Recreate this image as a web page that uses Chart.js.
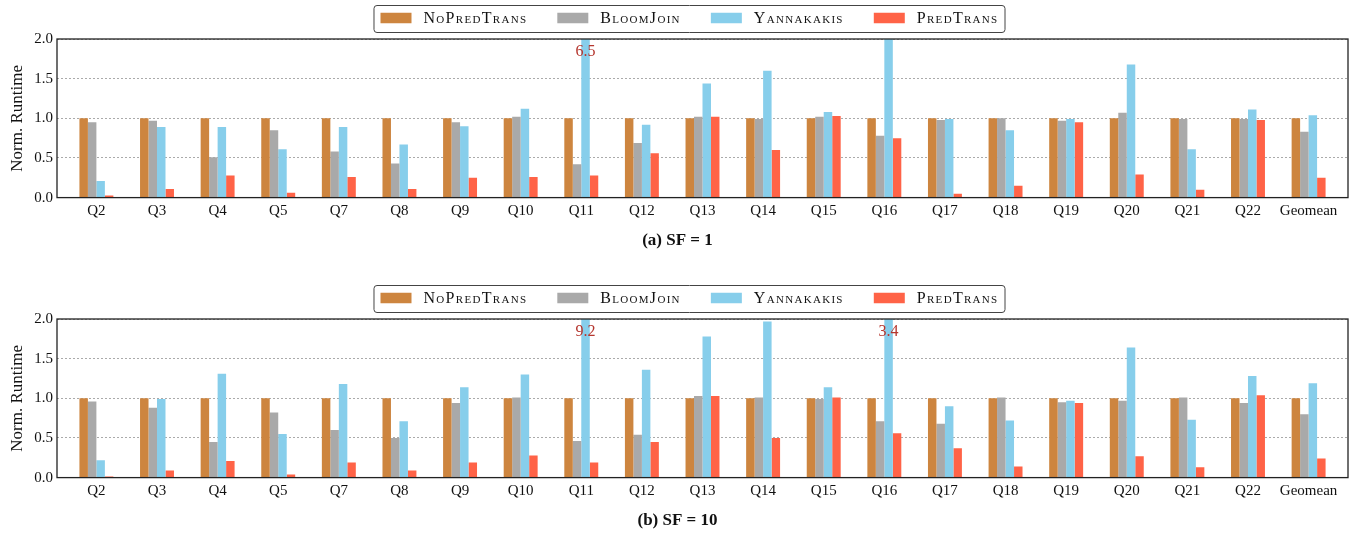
<!DOCTYPE html>
<html>
<head>
<meta charset="utf-8">
<script src="https://cdn.jsdelivr.net/npm/chart.js@4.4.1/dist/chart.umd.min.js"></script>
<style>
  body { margin: 0; background: #fff; width: 1353px; height: 534px; overflow: hidden; position: relative; }
  .panel { position: absolute; left: 0; width: 1353px; height: 254px; }
</style>
</head>
<body>
<div class="panel" style="top:0"><canvas id="sf1" width="1353" height="254"></canvas></div>
<div class="panel" style="top:280px"><canvas id="sf10" width="1353" height="254"></canvas></div>
<script>
var queries = ['Q2', 'Q3', 'Q4', 'Q5', 'Q7', 'Q8', 'Q9', 'Q10', 'Q11', 'Q12', 'Q13',
    'Q14', 'Q15', 'Q16', 'Q17', 'Q18', 'Q19', 'Q20', 'Q21', 'Q22', 'Geomean'];
var seriesNames = ['NoPredTrans', 'BloomJoin', 'Yannakakis', 'PredTrans'];
var seriesColors = ['#CD853F', '#A9A9A9', '#87CEEB', '#FF6347'];
var yTicks = [0, 0.5, 1.0, 1.5, 2.0];

// SF = 1
var sf1NoPredTrans = [1, 1, 1, 1, 1, 1, 1, 1, 1, 1, 1, 1, 1, 1, 1, 1, 1, 1, 1, 1, 1];
var sf1BloomJoin = [0.95, 0.97, 0.51, 0.85, 0.58, 0.43, 0.95, 1.02, 0.42, 0.69, 1.02,
    0.99, 1.02, 0.78, 0.98, 1.0, 0.97, 1.07, 0.99, 0.99, 0.83];
var sf1Yannakakis = [0.21, 0.89, 0.89, 0.61, 0.89, 0.67, 0.90, 1.12, 6.5, 0.92, 1.44,
    1.60, 1.08, 2.0, 0.99, 0.85, 0.99, 1.68, 0.61, 1.11, 1.04];
var sf1PredTrans = [0.025, 0.11, 0.28, 0.06, 0.26, 0.11, 0.25, 0.26, 0.28, 0.56, 1.02,
    0.60, 1.03, 0.75, 0.05, 0.15, 0.95, 0.29, 0.10, 0.98, 0.25];

// SF = 10
var sf10NoPredTrans = [1, 1, 1, 1, 1, 1, 1, 1, 1, 1, 1, 1, 1, 1, 1, 1, 1, 1, 1, 1, 1];
var sf10BloomJoin = [0.96, 0.88, 0.45, 0.82, 0.60, 0.50, 0.94, 1.01, 0.46, 0.54, 1.03,
    1.01, 0.99, 0.71, 0.68, 1.01, 0.95, 0.97, 1.01, 0.94, 0.80];
var sf10Yannakakis = [0.22, 0.99, 1.31, 0.55, 1.18, 0.71, 1.14, 1.30, 9.2, 1.36, 1.78,
    1.97, 1.14, 3.4, 0.90, 0.72, 0.97, 1.64, 0.73, 1.28, 1.19];
var sf10PredTrans = [0.013, 0.09, 0.21, 0.04, 0.19, 0.09, 0.19, 0.28, 0.19, 0.45, 1.03,
    0.50, 1.01, 0.56, 0.37, 0.14, 0.94, 0.27, 0.13, 1.04, 0.24];

var serif = "'Liberation Serif', 'DejaVu Serif', serif";
var yMax = 2.0;

function points(values) {
    return values.map(function (v, i) { return { x: i, y: v }; });
}

// boxed legend with small caps labels, drawn above the plot
var boxedLegend = {
    id: 'boxedLegend',
    afterDraw: function (chart) {
        var ctx = chart.ctx;
        var sw = 31, sh = 10.5, gap = 12, itemGap = 30;
        ctx.save();
        ctx.font = 'small-caps 16px ' + serif;
        if ('fontVariantCaps' in ctx) ctx.fontVariantCaps = 'small-caps';
        if ('letterSpacing' in ctx) ctx.letterSpacing = '1.3px';
        var widths = seriesNames.map(function (n) { return ctx.measureText(n).width; });
        var total = itemGap * (seriesNames.length - 1);
        widths.forEach(function (w) { total += sw + gap + w; });
        var cx = 689.5, cy = 18;
        var x = cx - total / 2;
        ctx.strokeStyle = '#444';
        ctx.lineWidth = 1;
        ctx.beginPath();
        ctx.roundRect(x - 6.5, 5.5, total + 13, 27, 3);
        ctx.stroke();
        ctx.textBaseline = 'middle';
        seriesNames.forEach(function (n, i) {
            ctx.fillStyle = seriesColors[i];
            ctx.fillRect(x, cy - sh / 2, sw, sh);
            ctx.fillStyle = '#111';
            ctx.fillText(n, x + sw + gap, cy + 1);
            x += sw + gap + widths[i] + itemGap;
        });
        ctx.restore();
    }
};

// frame around the plot and values of clipped bars
var frameAndOverflow = {
    id: 'frameAndOverflow',
    afterDatasetsDraw: function (chart) {
        var ctx = chart.ctx, a = chart.chartArea;
        ctx.save();
        ctx.font = '16px ' + serif;
        ctx.fillStyle = '#b5362e';
        ctx.textAlign = 'center';
        ctx.textBaseline = 'middle';
        chart.data.datasets.forEach(function (ds, di) {
            chart.getDatasetMeta(di).data.forEach(function (bar, i) {
                var v = ds.data[i].y;
                if (v > yMax) ctx.fillText(v.toFixed(1), bar.x, a.top + 13);
            });
        });
        ctx.strokeStyle = '#222';
        ctx.lineWidth = 1.3;
        ctx.strokeRect(a.left, a.top, a.right - a.left, a.bottom - a.top);
        ctx.restore();
    }
};

function makeChart(id, caption, series) {
    return new Chart(document.getElementById(id).getContext('2d'), {
        type: 'bar',
        data: {
            datasets: series.map(function (vals, i) {
                return {
                    label: seriesNames[i],
                    data: points(vals),
                    backgroundColor: seriesColors[i],
                    borderWidth: 0,
                    categoryPercentage: 0.56,
                    barPercentage: 1.0
                };
            })
        },
        options: {
            responsive: false,
            animation: false,
            layout: { padding: { left: 7, right: 5, top: 39, bottom: 3 } },
            plugins: {
                legend: { display: false },
                tooltip: { enabled: false },
                title: {
                    display: true,
                    position: 'bottom',
                    text: caption,
                    color: '#111',
                    font: { family: serif, size: 17, weight: 'bold' },
                    padding: { top: 7, bottom: 0 }
                }
            },
            scales: {
                x: {
                    type: 'linear',
                    offset: false,
                    min: -0.65,
                    max: queries.length - 0.35,
                    afterBuildTicks: function (s) {
                        s.ticks = queries.map(function (q, i) { return { value: i }; });
                    },
                    grid: { display: false, drawTicks: false },
                    border: { display: false },
                    ticks: {
                        autoSkip: false,
                        maxRotation: 0,
                        padding: 4,
                        color: '#111',
                        font: { family: serif, size: 15 },
                        callback: function (v) { return queries[v]; }
                    }
                },
                y: {
                    min: 0,
                    max: yMax,
                    afterFit: function (s) { s.width = 50; },
                    afterBuildTicks: function (s) {
                        s.ticks = yTicks.map(function (t) { return { value: t }; });
                    },
                    border: { display: false, dash: [2, 2] },
                    grid: {
                        color: '#aaaaaa',
                        lineWidth: 1,
                        drawTicks: false
                    },
                    ticks: {
                        padding: 4,
                        color: '#111',
                        font: { family: serif, size: 15 },
                        callback: function (v) { return v.toFixed(1); }
                    },
                    title: {
                        display: true,
                        text: 'Norm. Runtime',
                        color: '#111',
                        font: { family: serif, size: 17 },
                        padding: { top: 0, bottom: 0 }
                    }
                }
            }
        },
        plugins: [boxedLegend, frameAndOverflow]
    });
}

var chartSf1 = makeChart('sf1', '(a) SF = 1',
    [sf1NoPredTrans, sf1BloomJoin, sf1Yannakakis, sf1PredTrans]);
var chartSf10 = makeChart('sf10', '(b) SF = 10',
    [sf10NoPredTrans, sf10BloomJoin, sf10Yannakakis, sf10PredTrans]);
</script>
</body>
</html>
